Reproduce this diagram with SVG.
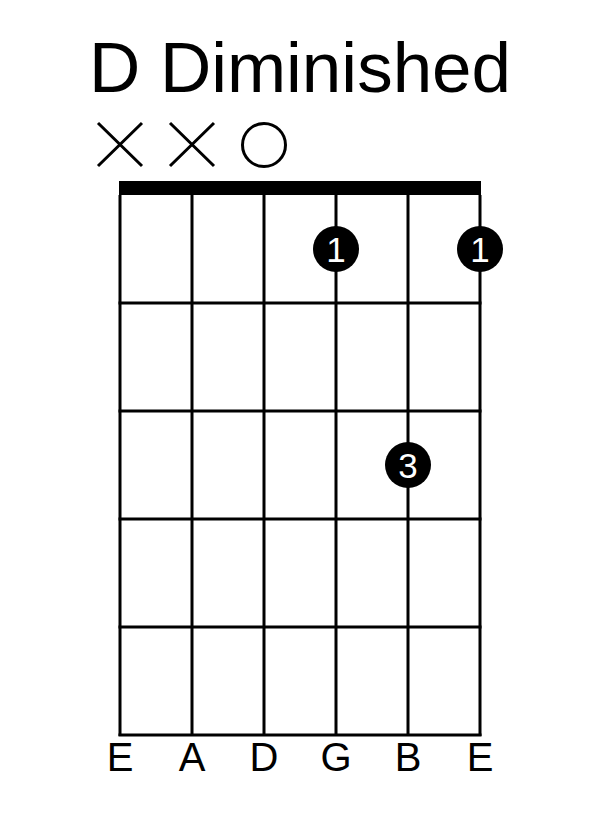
<svg xmlns="http://www.w3.org/2000/svg" width="600" height="835" viewBox="0 0 600 835">
<style>
.ln{stroke:#000;stroke-width:3;fill:none}
.mk{stroke:#000;stroke-width:3;fill:none}
.dot{fill:#000}
.fn{fill:#fff;font-family:"Liberation Sans",Arial,sans-serif;font-size:35px;text-anchor:middle}
.lb{fill:#000;font-family:"Liberation Sans",Arial,sans-serif;font-size:40px;text-anchor:middle}
.tt{fill:#000;font-family:"Liberation Sans",Arial,sans-serif;font-size:71px;text-anchor:middle}
</style>
<rect width="600" height="835" fill="#fff"/>
<g id="title"><text class="tt" x="300" y="92">D Diminished</text></g>
<g id="fretboard">
<rect x="119" y="181" width="362" height="14" fill="#000"/>
<line class="ln" x1="120" y1="195" x2="120" y2="736"/>
<line class="ln" x1="192" y1="195" x2="192" y2="736"/>
<line class="ln" x1="264" y1="195" x2="264" y2="736"/>
<line class="ln" x1="336" y1="195" x2="336" y2="736"/>
<line class="ln" x1="408" y1="195" x2="408" y2="736"/>
<line class="ln" x1="480" y1="195" x2="480" y2="736"/>
<line class="ln" x1="118.5" y1="303" x2="481.5" y2="303"/>
<line class="ln" x1="118.5" y1="411" x2="481.5" y2="411"/>
<line class="ln" x1="118.5" y1="519" x2="481.5" y2="519"/>
<line class="ln" x1="118.5" y1="627" x2="481.5" y2="627"/>
<line class="ln" x1="118.5" y1="735" x2="481.5" y2="735"/>
</g>
<g id="muted-E"><path class="mk" d="M98 123L142 166M142 123L98 166"/></g>
<g id="muted-A"><path class="mk" d="M170 123L214 166M214 123L170 166"/></g>
<g id="open-D"><circle class="mk" cx="264" cy="145" r="21.5"/></g>
<g id="finger-G"><circle class="dot" cx="336" cy="249" r="23"/><text class="fn" x="336" y="262">1</text></g>
<g id="finger-E"><circle class="dot" cx="480" cy="249" r="23"/><text class="fn" x="480" y="262">1</text></g>
<g id="finger-B"><circle class="dot" cx="408" cy="465" r="23"/><text class="fn" x="408" y="478">3</text></g>
<g id="labels">
<text class="lb" x="120" y="771">E</text>
<text class="lb" x="192" y="771">A</text>
<text class="lb" x="264" y="771">D</text>
<text class="lb" x="336" y="771">G</text>
<text class="lb" x="408" y="771">B</text>
<text class="lb" x="480" y="771">E</text>
</g>
</svg>
